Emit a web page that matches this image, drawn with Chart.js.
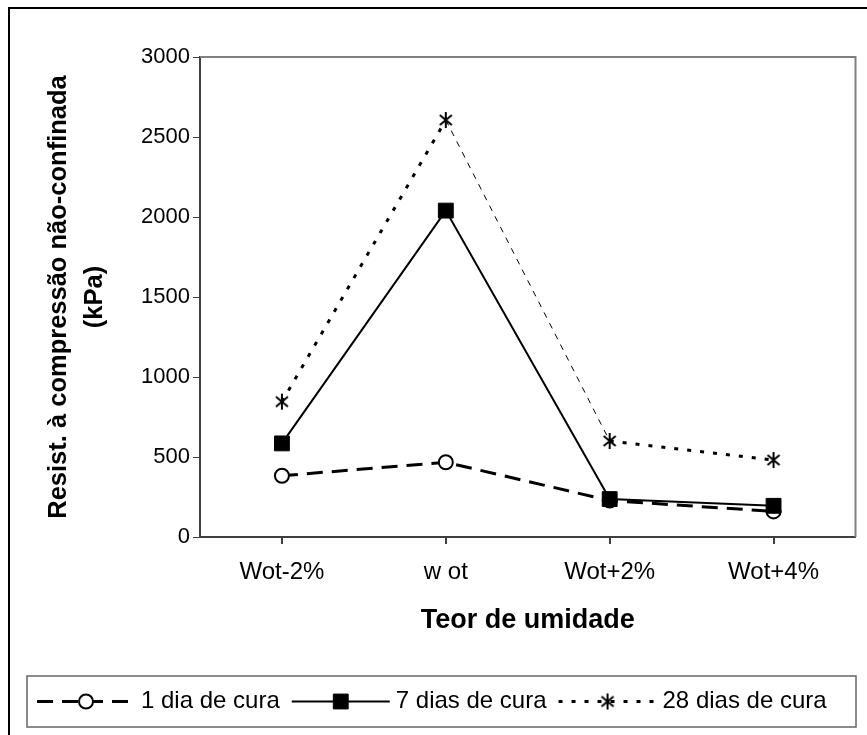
<!DOCTYPE html>
<html lang="pt">
<head>
<meta charset="UTF-8">
<title>Resistência à compressão não-confinada</title>
<script src="https://cdn.jsdelivr.net/npm/chart.js@4.4.0/dist/chart.umd.min.js"></script>
<style>
  body { margin: 0; background: #fff; }
  canvas { display: block; }
</style>
</head>
<body>
<canvas id="grafico" width="867" height="735"></canvas>
<script>
const categorias = ['Wot-2%', 'w ot', 'Wot+2%', 'Wot+4%'];
const cura1dia = [383, 467, 228, 160];
const cura7dias = [585, 2040, 237, 195];
const cura28dias = [846, 2606, 600, 481];
const ticksY = [0, 500, 1000, 1500, 2000, 2500, 3000];
const nomesSeries = ['1 dia de cura', '7 dias de cura', '28 dias de cura'];

const fonte = "'Liberation Sans', Arial, sans-serif";

// asterisco de 6 pontas (X + traço vertical) para a série de 28 dias
function criaAsterisco() {
  const c = document.createElement('canvas');
  c.width = 18; c.height = 18;
  const g = c.getContext('2d');
  g.strokeStyle = '#000';
  g.lineWidth = 2;
  g.beginPath();
  g.moveTo(3, 4); g.lineTo(15, 14);
  g.moveTo(15, 4); g.lineTo(3, 14);
  g.moveTo(9, 1); g.lineTo(9, 17);
  g.stroke();
  return c;
}
const asterisco = criaAsterisco();

const datasets = [
  {
    label: nomesSeries[0],
    data: cura1dia,
    order: 2,
    borderColor: '#000',
    borderWidth: 3,
    borderDash: [16, 9],
    pointStyle: 'circle',
    pointRadius: 7,
    pointBackgroundColor: '#fff',
    pointBorderColor: '#000',
    pointBorderWidth: 2
  },
  {
    label: nomesSeries[1],
    data: cura7dias,
    order: 1,
    borderColor: '#000',
    borderWidth: 2,
    pointStyle: 'rect',
    pointRadius: 10.5,
    pointBackgroundColor: '#000',
    pointBorderColor: '#000',
    pointBorderWidth: 1
  },
  {
    label: nomesSeries[2],
    data: cura28dias,
    order: 3,
    borderColor: '#000',
    borderWidth: 3,
    borderDash: [4, 9],
    pointStyle: asterisco,
    pointBackgroundColor: '#000',
    pointBorderColor: '#000',
    // o trecho w ot -> Wot+2% sai fino e tracejado
    segment: {
      borderWidth: c => c.p0DataIndex === 1 ? 1 : undefined,
      borderDash: c => c.p0DataIndex === 1 ? [6, 6] : undefined
    }
  }
];

// moldura, marcas extra no eixo x e legenda com amostra de linha
const extras = {
  id: 'extras',
  beforeDraw(chart) {
    const ctx = chart.ctx;
    ctx.save();
    ctx.fillStyle = '#fff';
    ctx.fillRect(0, 0, chart.width, chart.height);
    ctx.restore();
  },
  afterDraw(chart) {
    const { ctx, chartArea: a } = chart;
    const x = chart.scales.x;
    ctx.save();

    // topo e lado direito da área de plotagem
    ctx.strokeStyle = '#808080';
    ctx.lineWidth = 2;
    ctx.beginPath();
    ctx.moveTo(a.left, a.top);
    ctx.lineTo(a.right, a.top);
    ctx.lineTo(a.right, a.bottom);
    ctx.stroke();

    // marcas no centro de cada categoria
    ctx.strokeStyle = '#404040';
    ctx.lineWidth = 1;
    ctx.beginPath();
    categorias.forEach((c, i) => {
      const px = Math.round(x.getPixelForValue(i)) + 0.5;
      ctx.moveTo(px, a.bottom);
      ctx.lineTo(px, a.bottom + 7);
    });
    ctx.stroke();

    // moldura externa
    ctx.strokeStyle = '#000';
    ctx.lineWidth = 2;
    ctx.strokeRect(9, 8, 900, 800);

    // legenda
    const caixa = { x: 27, y: 676, w: 829, h: 51 };
    ctx.strokeStyle = '#666';
    ctx.lineWidth = 1.5;
    ctx.strokeRect(caixa.x, caixa.y, caixa.w, caixa.h);

    const cy = caixa.y + caixa.h / 2;
    ctx.font = '24px ' + fonte;
    ctx.textBaseline = 'middle';
    let px = 37;
    chart.data.datasets.forEach((ds) => {
      const amostra = 98;
      ctx.save();
      ctx.strokeStyle = ds.borderColor;
      ctx.lineWidth = ds.borderWidth;
      ctx.setLineDash(ds.borderDash || []);
      ctx.beginPath();
      ctx.moveTo(px, cy);
      ctx.lineTo(px + amostra, cy);
      ctx.stroke();
      ctx.restore();

      ctx.save();
      ctx.fillStyle = ds.pointBackgroundColor;
      ctx.strokeStyle = ds.pointBorderColor;
      ctx.lineWidth = ds.pointBorderWidth || 1;
      Chart.helpers.drawPoint(ctx, {
        pointStyle: ds.pointStyle,
        radius: ds.pointRadius || 3,
        borderWidth: ds.pointBorderWidth || 1,
        rotation: 0
      }, px + amostra / 2, cy);
      ctx.restore();

      px += amostra + 6;
      ctx.fillStyle = '#000';
      ctx.fillText(ds.label, px, cy);
      px += ctx.measureText(ds.label).width + 12;
    });
    ctx.restore();
  }
};

new Chart(document.getElementById('grafico'), {
  type: 'line',
  data: { labels: categorias, datasets: datasets },
  plugins: [extras],
  options: {
    responsive: false,
    animation: false,
    layout: { padding: { left: 0, top: 57, right: 11, bottom: 88 } },
    plugins: {
      legend: { display: false },
      tooltip: { enabled: false }
    },
    scales: {
      x: {
        type: 'category',
        offset: true,
        grid: { drawOnChartArea: false, tickLength: 7, color: '#404040', lineWidth: 1 },
        border: { color: '#404040', width: 2 },
        ticks: { font: { family: fonte, size: 24 }, color: '#000', padding: 14, maxRotation: 0 },
        title: {
          display: true,
          text: 'Teor de umidade',
          color: '#000',
          font: { family: fonte, size: 27, weight: 'bold' },
          padding: { top: 0, bottom: 10 }
        },
        afterFit: s => { s.height = 110; }
      },
      y: {
        min: 0,
        max: 3000,
        afterBuildTicks: s => { s.ticks = ticksY.map(v => ({ value: v })); },
        grid: { drawOnChartArea: false, tickLength: 7, color: '#404040', lineWidth: 1 },
        border: { color: '#404040', width: 2 },
        ticks: {
          font: { family: fonte, size: 22 },
          color: '#000',
          padding: 3,
          callback: v => String(v)
        },
        title: {
          display: true,
          text: ['Resist. à compressão não-confinada', '(kPa)'],
          color: '#000',
          font: { family: fonte, size: 25.5, weight: 'bold', lineHeight: 1.45 },
          padding: { top: 40, bottom: 0 }
        },
        afterFit: s => { s.width = 200; }
      }
    }
  }
});
</script>
</body>
</html>
